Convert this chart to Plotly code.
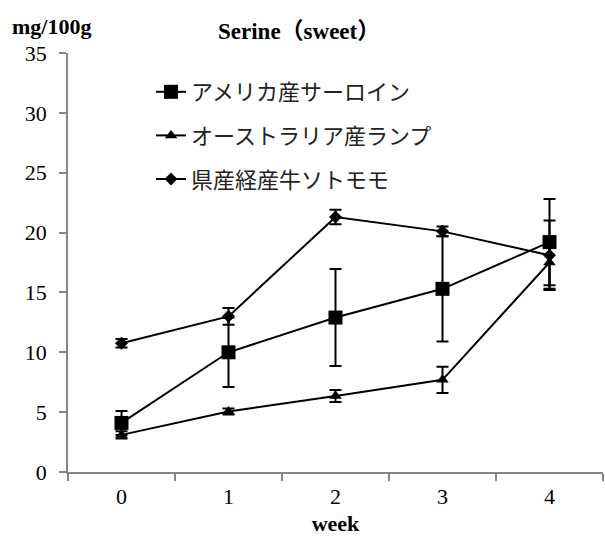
import plotly.graph_objects as go

weeks = ["0", "1", "2", "3", "4"]

names = ["アメリカ産サーロイン", "オーストラリア産ランプ", "県産経産牛ソトモモ"]
us_sirloin = [4.1, 10.0, 12.9, 15.3, 19.2]
us_sirloin_err = [1.0, 2.9, 4.05, 4.4, 3.6]
au_rump = [3.1, 5.05, 6.35, 7.7, 17.5]
au_rump_err = [0.3, 0.25, 0.5, 1.1, 2.2]
pref_round = [10.75, 13.0, 21.3, 20.1, 18.1]
pref_round_err = [0.35, 0.7, 0.6, 0.4, 2.9]

series = [
    (names[0], us_sirloin, us_sirloin_err, "square", 14),
    (names[1], au_rump, au_rump_err, "triangle-up", 11),
    (names[2], pref_round, pref_round_err, "diamond", 10),
]

fig = go.Figure()
for i, (nm, vals, errs, sym, sz) in enumerate(series):
    fig.add_trace(go.Scatter(
        x=weeks, y=vals, name=nm, mode="lines+markers",
        line=dict(color="black", width=2),
        marker=dict(symbol=sym, size=sz, color="black"),
        error_y=dict(type="data", array=errs, visible=True,
                     color="black", thickness=2, width=6),
        legendgroup="g%d" % i,
    ))

serif = "Liberation Serif, Noto Sans CJK JP, serif"
axcol = "#868686"

pw, ph = 605 - 68 - 2, 541 - 53 - 69
def px2paper(px, py):
    return (px - 68) / pw, (541 - 69 - py) / ph

lx, ly = px2paper(151, 71)
ax, ay = px2paper(299, 31)
bx, by = px2paper(51, 26)

fig.update_layout(
    width=605, height=541,
    margin=dict(l=68, r=2, t=53, b=69),
    paper_bgcolor="white", plot_bgcolor="white",
    showlegend=True,
    legend=dict(
        x=lx, y=ly, xanchor="left", yanchor="top",
        font=dict(family="Noto Sans CJK JP", size=22, color="#222"),
        tracegroupgap=12, bgcolor="rgba(0,0,0,0)",
    ),
    xaxis=dict(
        type="category", range=[-0.5, 4.5],
        showline=True, linecolor=axcol, linewidth=1.5,
        ticks="outside", tickson="boundaries", ticklen=7, tickcolor=axcol, tickwidth=1.5,
        showgrid=False, zeroline=False,
        tickfont=dict(family=serif, size=22, color="black"),
        ticklabelstandoff=4,
        title=dict(text="<b>week</b>", font=dict(family=serif, size=22, color="black"), standoff=7),
    ),
    yaxis=dict(
        range=[0, 35], tickvals=[0, 5, 10, 15, 20, 25, 30, 35],
        showline=True, linecolor=axcol, linewidth=1.5,
        ticks="outside", ticklen=7, tickcolor=axcol, tickwidth=1.5,
        showgrid=False, zeroline=False,
        tickfont=dict(family=serif, size=22, color="black"),
        ticklabelstandoff=8,
    ),
    annotations=[
        dict(text="<b>Serine（sweet）</b>", x=ax, y=ay, xref="paper", yref="paper",
             xanchor="center", yanchor="middle",
             showarrow=False, font=dict(family=serif, size=23, color="black")),
        dict(text="<b>mg/100g</b>", x=bx, y=by, xref="paper", yref="paper",
             xanchor="center", yanchor="middle",
             showarrow=False, font=dict(family=serif, size=22, color="black")),
    ],
)

fig.write_html("out.html")
